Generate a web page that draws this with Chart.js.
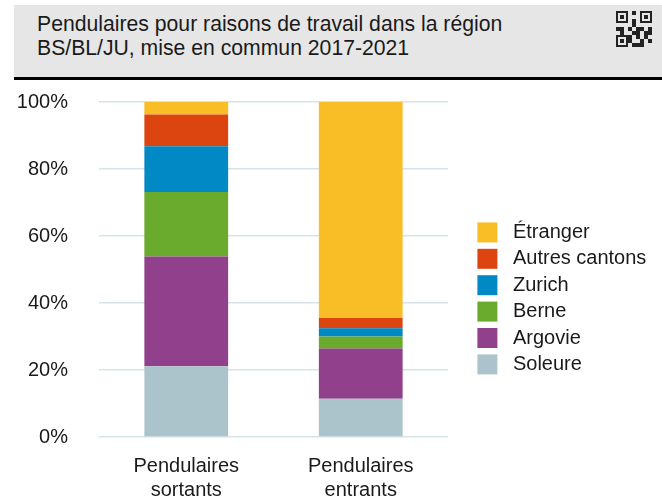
<!DOCTYPE html>
<html lang="fr">
<head>
<meta charset="utf-8">
<script src="https://cdn.jsdelivr.net/npm/chart.js@4"></script>
<style>
  html, body { margin: 0; padding: 0; width: 662px; height: 500px; overflow: hidden; background: #fff; }
  body { position: relative; font-family: "Liberation Sans", Arial, sans-serif; color: #1a1a1a; }
  #header {
    position: absolute; left: 14px; top: 5px; width: 648px; height: 72px;
    background: #e6e6e6; border-bottom: 3px solid #000; box-sizing: content-box;
  }
  #header h1 {
    margin: 0; position: absolute; left: 23px; top: 7px;
    font-size: 21.2px; line-height: 24px; font-weight: normal; color: #1a1a1a;
  }
  #qr { position: absolute; left: 602px; top: 5px; }
  #chartBox { position: absolute; left: 0; top: 85px; width: 662px; height: 417px; }
</style>
</head>
<body>
<div id="header">
  <h1>Pendulaires pour raisons de travail dans la région<br>BS/BL/JU, mise en commun 2017-2021</h1>
  <svg id="qr" width="36" height="37" viewBox="0 0 9 9" shape-rendering="crispEdges">
    <g fill="#222">
      <path d="M0 0h3v3h-3z M6 0h3v3h-3z M0 6h3v3h-3z"/>
      <path d="M4 0h1v1h-1z M4 2h1v2h-1z M0 4h2v1h-2z M3 4h1v1h-1z M5 4h2v1h-2z M8 4h1v2h-1z M1 5h1v1h-1z M4 5h2v1h-2z M7 5h1v1h-1z M3 6h1v2h-1z M5 6h1v1h-1z M8 7h1v1h-1z M4 8h2v1h-2z M6 7h1v2h-1z M7 6h1v1h-1z"/>
    </g>
    <g fill="#e6e6e6">
      <path d="M0.5 0.5h2v2h-2z M6.5 0.5h2v2h-2z M0.5 6.5h2v2h-2z"/>
    </g>
    <g fill="#222">
      <path d="M1 1h1v1h-1z M7 1h1v1h-1z M1 7h1v1h-1z"/>
    </g>
  </svg>
</div>
<div id="chartBox"><canvas id="chart"></canvas></div>
<script>
// catégories et séries (en %)
const categories = [['Pendulaires', 'sortants'], ['Pendulaires', 'entrants']];
const seriesNames = ['Soleure', 'Argovie', 'Berne', 'Zurich', 'Autres cantons', 'Étranger'];
const soleure = [21.1, 11.4];
const argovie = [32.8, 15.0];
const berne = [19.2, 3.6];
const zurich = [13.7, 2.5];
const autresCantons = [9.5, 3.0];
const etranger = [3.7, 64.5];
const yTicks = [0, 20, 40, 60, 80, 100];

const seriesValues = [soleure, argovie, berne, zurich, autresCantons, etranger];
const seriesColors = ['#abc4cb', '#91418c', '#6aaa2c', '#0089c4', '#dc4510', '#f9bd25'];

Chart.defaults.font.family = '"Liberation Sans", Arial, sans-serif';
Chart.defaults.font.size = 20;
Chart.defaults.color = '#1a1a1a';

// place la légende comme dans l'original (à droite, un peu plus bas)
const legendPlace = {
  id: 'legendPlace',
  beforeInit(chart) {
    const fit = chart.legend.fit;
    chart.legend.fit = function () {
      fit.call(this);
      this.width = 214;
    };
  },
  afterLayout(chart) {
    const lg = chart.legend;
    const w = lg.width;
    lg.left = 471;
    lg.right = lg.left + w;
    lg.top = 131;
    lg.bottom = 131 + 260;
  }
};

new Chart(document.getElementById('chart'), {
  type: 'bar',
  data: {
    labels: categories,
    datasets: seriesNames.map((name, i) => ({
      label: name,
      data: seriesValues[i],
      backgroundColor: seriesColors[i],
      borderWidth: 0,
      barPercentage: 0.6,
      categoryPercentage: 0.8
    }))
  },
  options: {
    responsive: true,
    maintainAspectRatio: false,
    animation: false,
    layout: { padding: { top: 17, left: 0, right: 0, bottom: 0 } },
    plugins: {
      legend: {
        position: 'right',
        align: 'start',
        reverse: true,
        labels: {
          boxWidth: 20,
          boxHeight: 20,
          padding: 6.4,
          font: { size: 20 },
          // petit espace en plus entre la case et le texte
          generateLabels(chart) {
            return Chart.defaults.plugins.legend.labels.generateLabels(chart)
              .map(item => ({ ...item, text: ' ' + item.text }));
          }
        }
      },
      tooltip: { enabled: false }
    },
    scales: {
      x: {
        stacked: true,
        afterFit(scale) { scale.height = 65; },
        grid: { display: false, drawTicks: false },
        border: { display: false },
        ticks: { padding: 17, font: { size: 20, lineHeight: 1.2 } }
      },
      y: {
        stacked: true,
        min: 0,
        max: 100,
        afterBuildTicks(scale) { scale.ticks = yTicks.map(v => ({ value: v })); },
        afterFit(scale) {
          scale.width = 99;
          scale.paddingTop = 0;
          scale.paddingBottom = 0;
        },
        grid: { color: '#d6e3e8', lineWidth: 1.5, drawTicks: false },
        border: { display: false },
        ticks: { padding: 31, callback: v => v + '%' }
      }
    }
  },
  plugins: [legendPlace]
});
</script>
</body>
</html>
